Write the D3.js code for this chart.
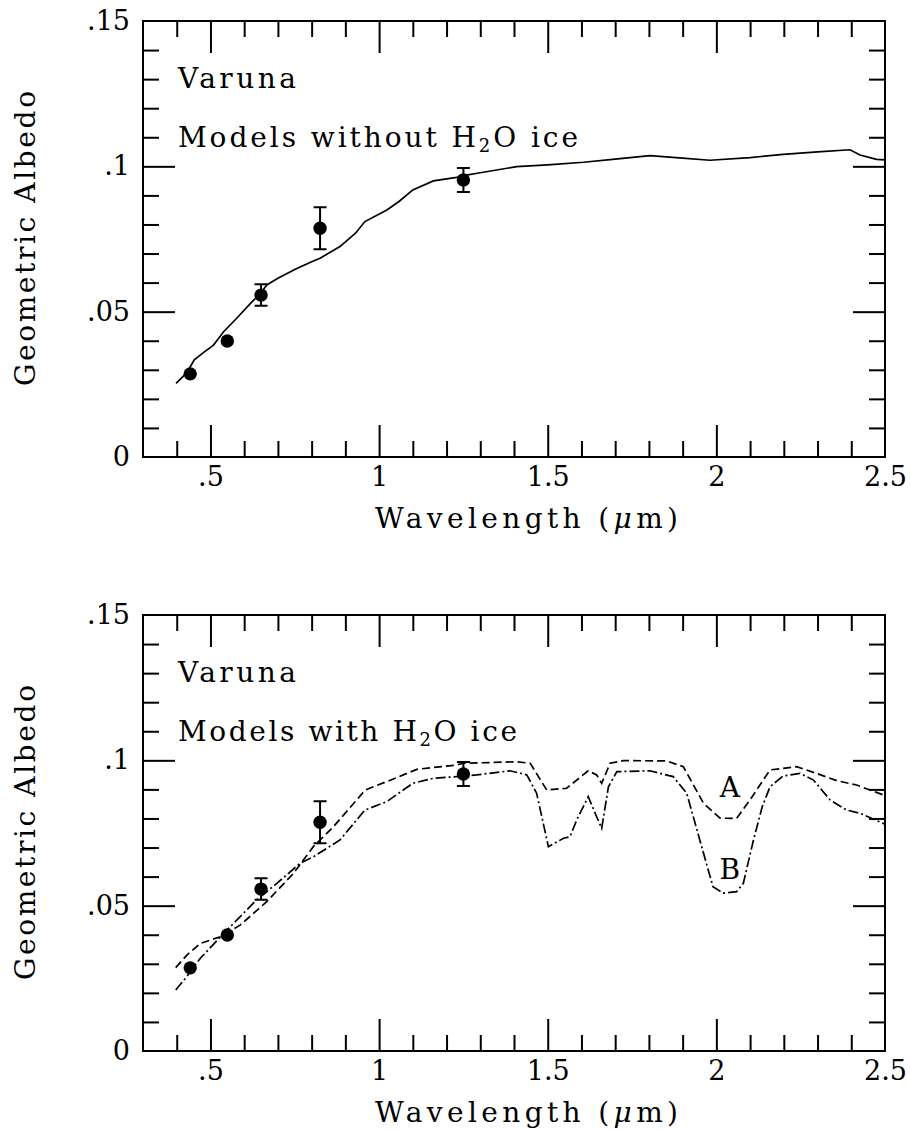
<!DOCTYPE html>
<html>
<head>
<meta charset="utf-8">
<script src="https://cdn.jsdelivr.net/npm/d3@7"></script>
<style>
  body { margin: 0; background: #fff; }
  text { font-family: "DejaVu Serif", serif; fill: #000; }
</style>
</head>
<body>
<div id="chart"></div>
<script>
// measured photometry (same in both panels)
const obsWl = [0.44, 0.55, 0.65, 0.825, 1.25]
const obsAlb = [0.0286, 0.0399, 0.0557, 0.0787, 0.0953]
const obsErr = [0, 0, 0.0037, 0.0072, 0.0041]

// model without water ice (top panel, solid)
const dryWl = [0.398, 0.43, 0.452, 0.48, 0.509, 0.539, 0.58, 0.62, 0.65, 0.667, 0.70, 0.75, 0.80, 0.825, 0.884, 0.93, 0.958, 1.023, 1.06, 1.10, 1.161, 1.23, 1.25, 1.30, 1.408, 1.50, 1.606, 1.70, 1.803, 1.90, 1.981, 2.10, 2.198, 2.30, 2.396, 2.426, 2.475, 2.5]
const dryAlb = [0.0253, 0.029, 0.0334, 0.036, 0.0385, 0.0431, 0.048, 0.053, 0.0565, 0.0592, 0.0615, 0.0645, 0.0672, 0.0684, 0.0724, 0.077, 0.081, 0.085, 0.088, 0.0919, 0.095, 0.0962, 0.0968, 0.0978, 0.0999, 0.1005, 0.1014, 0.1025, 0.1037, 0.1028, 0.1021, 0.103, 0.1041, 0.105, 0.1057, 0.1039, 0.1024, 0.1022]

// model A (dashed) with ice
const aWl = [0.397, 0.43, 0.47, 0.529, 0.588, 0.667, 0.746, 0.805, 0.865, 0.959, 1.023, 1.112, 1.23, 1.25, 1.408, 1.448, 1.497, 1.556, 1.62, 1.645, 1.66, 1.685, 1.724, 1.853, 1.902, 1.962, 2.011, 2.06, 2.10, 2.159, 2.238, 2.297, 2.357, 2.416, 2.495, 2.5]
const aAlb = [0.0287, 0.033, 0.037, 0.0393, 0.0433, 0.0514, 0.0611, 0.0703, 0.0772, 0.0898, 0.0927, 0.0969, 0.0984, 0.099, 0.0995, 0.099, 0.0898, 0.0904, 0.0964, 0.095, 0.0921, 0.099, 0.0999, 0.0998, 0.0978, 0.0852, 0.0801, 0.080, 0.0864, 0.0967, 0.0978, 0.0955, 0.093, 0.0915, 0.0881, 0.0879]

// model B (dash-dot) with ice
const bWl = [0.397, 0.43, 0.47, 0.549, 0.637, 0.697, 0.766, 0.805, 0.884, 0.958, 1.023, 1.10, 1.161, 1.23, 1.29, 1.388, 1.438, 1.467, 1.502, 1.547, 1.566, 1.586, 1.62, 1.645, 1.66, 1.68, 1.705, 1.803, 1.872, 1.912, 1.962, 1.99, 2.02, 2.06, 2.08, 2.11, 2.136, 2.159, 2.198, 2.248, 2.288, 2.337, 2.386, 2.426, 2.495, 2.5]
const bAlb = [0.021, 0.0256, 0.0319, 0.0416, 0.052, 0.0577, 0.0646, 0.0668, 0.0726, 0.0829, 0.0858, 0.0921, 0.0938, 0.0944, 0.095, 0.0964, 0.095, 0.0887, 0.0703, 0.0732, 0.0737, 0.0795, 0.0875, 0.0806, 0.0766, 0.0909, 0.0961, 0.0964, 0.0944, 0.0887, 0.068, 0.0565, 0.0543, 0.0548, 0.0577, 0.0726, 0.084, 0.0909, 0.0946, 0.0955, 0.0932, 0.0864, 0.0829, 0.0818, 0.0783, 0.078]

const xMajor = [0.5, 1, 1.5, 2]
const xLabels = [0.5, 1, 1.5, 2, 2.5]
const yMajor = [0.05, 0.1]
const yLabels = [0, 0.05, 0.1, 0.15]

const width = 910, height = 1130
const W = 742, H = 436, left = 143

const svg = d3.select('#chart').append('svg')
    .attr('width', width)
    .attr('height', height)

const x = d3.scaleLinear().domain([0.3, 2.5]).range([0, W])
const y = d3.scaleLinear().domain([0, 0.15]).range([H, 0])

// drop the leading zero like ".05"
const fmt = d => d == 0 ? '0' : String(d).replace(/^0\./, '.')

const zip = (a, b) => a.map((v, i) => [v, b[i]])
const line = d3.line().x(d => x(d[0])).y(d => y(d[1]))

const styleAxis = (g) => {
    g.select('.domain').remove()
    g.selectAll('line').attr('stroke', '#000').attr('stroke-width', 2)
    g.selectAll('text').style('font-size', '27px')
}

const drawPanel = (top, title, titleLen, curves, labels) => {
    const g = svg.append('g').attr('transform', `translate(${left},${top})`)

    const xMinor = d3.range(4, 25).map(v => v / 10).filter(v => xMajor.indexOf(v) < 0)
    const yMinor = d3.range(1, 15).map(v => v / 100).filter(v => yMajor.indexOf(v) < 0)

    // bottom + top ticks, pointing inward
    g.append('g').attr('transform', `translate(0,${H})`)
        .call(d3.axisBottom(x).tickValues(xLabels).tickSize(0).tickPadding(10).tickFormat(fmt))
        .call(styleAxis)
    g.append('g').attr('transform', `translate(0,${H})`)
        .call(d3.axisBottom(x).tickValues(xMajor).tickSize(-32).tickFormat(''))
        .call(styleAxis)
    g.append('g').attr('transform', `translate(0,${H})`)
        .call(d3.axisBottom(x).tickValues(xMinor).tickSize(-16).tickFormat(''))
        .call(styleAxis)
    g.append('g')
        .call(d3.axisTop(x).tickValues(xMajor).tickSize(-32).tickFormat(''))
        .call(styleAxis)
    g.append('g')
        .call(d3.axisTop(x).tickValues(xMinor).tickSize(-16).tickFormat(''))
        .call(styleAxis)

    // left + right ticks
    g.append('g')
        .call(d3.axisLeft(y).tickValues(yLabels).tickSize(0).tickPadding(13).tickFormat(fmt))
        .call(styleAxis)
    g.append('g')
        .call(d3.axisLeft(y).tickValues(yMajor).tickSize(-32).tickFormat(''))
        .call(styleAxis)
    g.append('g')
        .call(d3.axisLeft(y).tickValues(yMinor).tickSize(-16).tickFormat(''))
        .call(styleAxis)
    g.append('g').attr('transform', `translate(${W},0)`)
        .call(d3.axisRight(y).tickValues(yMajor).tickSize(-32).tickFormat(''))
        .call(styleAxis)
    g.append('g').attr('transform', `translate(${W},0)`)
        .call(d3.axisRight(y).tickValues(yMinor).tickSize(-16).tickFormat(''))
        .call(styleAxis)

    g.append('rect')
        .attr('width', W).attr('height', H)
        .attr('fill', 'none').attr('stroke', '#000').attr('stroke-width', 2)

    // model curves
    curves.forEach(c => {
        g.append('path')
            .datum(zip(c.wl, c.alb))
            .attr('d', line)
            .attr('fill', 'none')
            .attr('stroke', '#000')
            .attr('stroke-width', 1.7)
            .attr('stroke-dasharray', c.dash)
    })

    // data points with error bars
    const pts = g.append('g').selectAll('g')
        .data(obsWl.map((w, i) => ({ w: w, a: obsAlb[i], e: obsErr[i] })))
        .enter().append('g')
    pts.filter(d => d.e > 0).append('path')
        .attr('d', d => `M${x(d.w)},${y(d.a - d.e)}V${y(d.a + d.e)}` +
            `M${x(d.w) - 6.5},${y(d.a - d.e)}h13M${x(d.w) - 6.5},${y(d.a + d.e)}h13`)
        .attr('stroke', '#000').attr('stroke-width', 2).attr('fill', 'none')
    pts.append('circle')
        .attr('cx', d => x(d.w)).attr('cy', d => y(d.a))
        .attr('r', 6.7).attr('fill', '#000')

    // curve labels (A / B)
    labels.forEach(l => {
        g.append('text')
            .attr('x', x(l.wl)).attr('y', y(l.alb))
            .attr('text-anchor', 'middle')
            .attr('dy', '0.36em')
            .style('font-size', '28px')
            .text(l.text)
    })

    // annotations
    g.append('text')
        .attr('x', 35).attr('y', 67)
        .attr('textLength', 118).attr('lengthAdjust', 'spacing')
        .style('font-size', '28px')
        .text('Varuna')
    const t = g.append('text')
        .attr('x', 35).attr('y', 125.5)
        .attr('textLength', titleLen).attr('lengthAdjust', 'spacing')
        .style('font-size', '28px')
    t.append('tspan').text(title + ' H')
    t.append('tspan').attr('dy', 5).style('font-size', '18px').text('2')
    t.append('tspan').attr('dy', -5).text('O ice')

    // axis titles
    const xt = g.append('text')
        .attr('x', 232).attr('y', H + 71)
        .attr('textLength', 303).attr('lengthAdjust', 'spacing')
        .style('font-size', '28px')
    xt.append('tspan').text('Wavelength (')
    xt.append('tspan').style('font-style', 'italic').text('μ')
    xt.append('tspan').text('m)')

    g.append('text')
        .attr('transform', `translate(${-108},${H / 2}) rotate(-90)`)
        .attr('x', -147)
        .attr('textLength', 295).attr('lengthAdjust', 'spacing')
        .style('font-size', '28px')
        .text('Geometric Albedo')
}

drawPanel(21, 'Models without', 400, [
    { wl: dryWl, alb: dryAlb, dash: null }
], [])

drawPanel(615, 'Models with', 339, [
    { wl: aWl, alb: aAlb, dash: '8,4' },
    { wl: bWl, alb: bAlb, dash: '10,3,2,3' }
], [
    { wl: 2.04, alb: 0.0909, text: 'A' },
    { wl: 2.04, alb: 0.0626, text: 'B' }
])
</script>
</body>
</html>
